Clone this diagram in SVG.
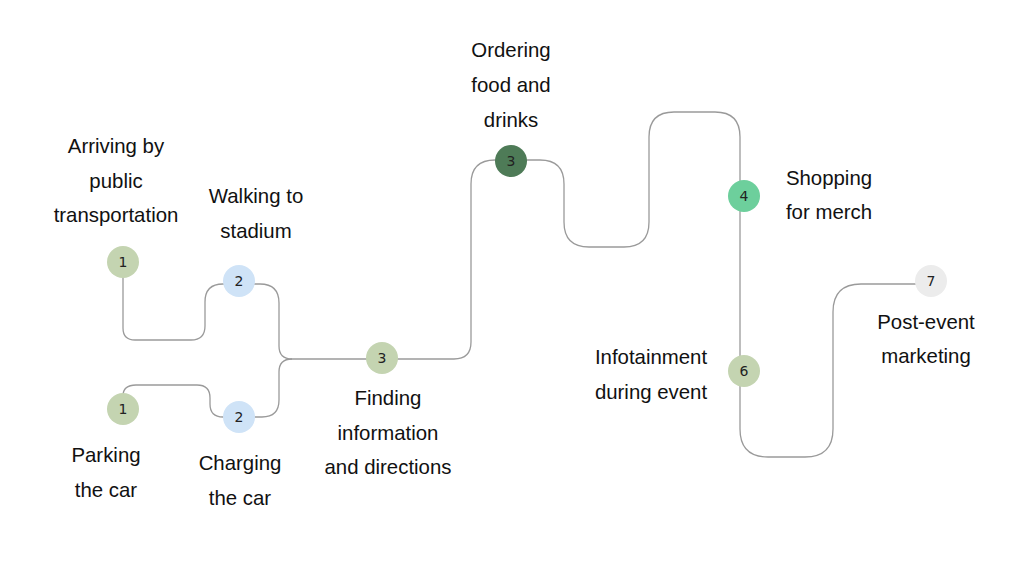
<svg xmlns="http://www.w3.org/2000/svg" width="1024" height="576" viewBox="0 0 1024 576">
<style>
.lbl{font-family:"Liberation Sans",Arial,sans-serif;font-size:20.4px;fill:#111;text-anchor:middle}
.num{font-family:"DejaVu Sans","Liberation Sans",sans-serif;font-size:14px;fill:#222;text-anchor:middle}
.conn{fill:none;stroke:#9a9a9a;stroke-width:1.3}
</style>
<rect width="1024" height="576" fill="#ffffff"/>
<g id="connectors">
<path class="conn" d="M123,262 V328 Q123,340 135,340 H191 Q205,340 205,326 V302 Q205,284 223,284 H239"/>
<path class="conn" d="M239,284 H260 Q279,284 279,303 V346 Q279,359 292,359 H382"/>
<path class="conn" d="M123,409 V396 Q123,385 136,385 H197 Q210,385 210,398 V404 Q210,417 223,417 H239"/>
<path class="conn" d="M239,417 H262 Q279,417 279,400 V372 Q279,359 292,359"/>
<path class="conn" d="M382,359 H454 Q471,359 471,342 V184 Q471,160 495,160 H511"/>
<path class="conn" d="M511,160 H540 Q564,160 564,184 V222 Q564,247 589,247 H624 Q649,247 649,222 V137 Q649,112 674,112 H715 Q740,112 740,137 V197"/>
<path class="conn" d="M740,197 V371"/>
<path class="conn" d="M740,371 V429 Q740,457 768,457 H805 Q833,457 833,429 V312 Q833,284 861,284 H931"/>
</g>
<g id="node-arriving">
<circle cx="123" cy="262" r="16" fill="#c4d4b1"/>
<text class="num" x="123" y="267">1</text>
<text class="lbl" x="116" y="153">Arriving by</text>
<text class="lbl" x="116" y="188">public</text>
<text class="lbl" x="116" y="222">transportation</text>
</g>
<g id="node-walking">
<circle cx="239" cy="281" r="16" fill="#cfe3f7"/>
<text class="num" x="239" y="286">2</text>
<text class="lbl" x="256" y="203">Walking to</text>
<text class="lbl" x="256" y="238">stadium</text>
</g>
<g id="node-parking">
<circle cx="123" cy="409" r="16" fill="#c4d4b1"/>
<text class="num" x="123" y="414">1</text>
<text class="lbl" x="106" y="462">Parking</text>
<text class="lbl" x="106" y="497">the car</text>
</g>
<g id="node-charging">
<circle cx="239" cy="417" r="16" fill="#cfe3f7"/>
<text class="num" x="239" y="422">2</text>
<text class="lbl" x="240" y="470">Charging</text>
<text class="lbl" x="240" y="505">the car</text>
</g>
<g id="node-finding">
<circle cx="382" cy="358" r="16" fill="#c4d4b1"/>
<text class="num" x="382" y="363">3</text>
<text class="lbl" x="388" y="405">Finding</text>
<text class="lbl" x="388" y="440">information</text>
<text class="lbl" x="388" y="474">and directions</text>
</g>
<g id="node-ordering">
<circle cx="511" cy="161" r="16" fill="#4e7b57"/>
<text class="num" x="511" y="166">3</text>
<text class="lbl" x="511" y="57">Ordering</text>
<text class="lbl" x="511" y="92">food and</text>
<text class="lbl" x="511" y="127">drinks</text>
</g>
<g id="node-shopping">
<circle cx="744" cy="196" r="16" fill="#6dcf9c"/>
<text class="num" x="744" y="201">4</text>
<text class="lbl" x="829" y="185">Shopping</text>
<text class="lbl" x="829" y="219">for merch</text>
</g>
<g id="node-infotainment">
<circle cx="744" cy="371" r="16" fill="#c4d4b1"/>
<text class="num" x="744" y="376">6</text>
<text class="lbl" x="651" y="364">Infotainment</text>
<text class="lbl" x="651" y="399">during event</text>
</g>
<g id="node-post">
<circle cx="931" cy="281" r="16" fill="#ececec"/>
<text class="num" x="931" y="286">7</text>
<text class="lbl" x="926" y="329">Post-event</text>
<text class="lbl" x="926" y="363">marketing</text>
</g>
</svg>
